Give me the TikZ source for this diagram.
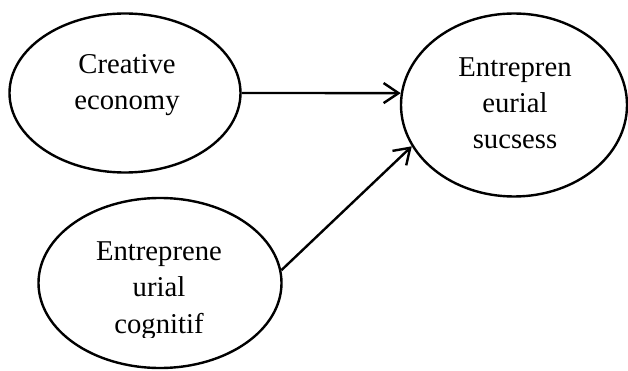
\documentclass[tikz,border=0pt]{standalone}
\usepackage{fontspec}
\setmainfont{Liberation Serif}
\usetikzlibrary{shapes.geometric,arrows.meta}
\begin{document}
\begin{tikzpicture}[x=1pt,y=-1pt,
  blob/.style={draw=black, line width=2.4pt, ellipse, inner sep=0pt},
  txt/.style={font=\fontsize{28.7}{36.3}\selectfont, align=center, anchor=base, inner sep=0pt},
  link/.style={draw=black, line width=2.4pt, -{Straight Barb[length=15pt,width=20pt,line width=2.4pt]}}]
\useasboundingbox (0,0) rectangle (628,371);
\node[blob, minimum width=231pt, minimum height=159pt] (a) at (125,93) {};
\node[blob, minimum width=226pt, minimum height=183pt] (c) at (514,105) {};
\node[blob, minimum width=243pt, minimum height=170pt] (b) at (160,283) {};
\node[txt] (at) at (127,110) {Creative\\economy};
\node[txt] (ct) at (515,149) {Entrepren\\eurial\\sucsess};
\begin{scope}
\clip (0,0) rectangle (628,337.5);
\node[txt] (bt) at (159,333) {Entreprene\\urial\\cognitif};
\end{scope}
\draw[link] (a.east) -- (c.174);
\draw[link] (b.6) -- (c.202);
\end{tikzpicture}
\end{document}
